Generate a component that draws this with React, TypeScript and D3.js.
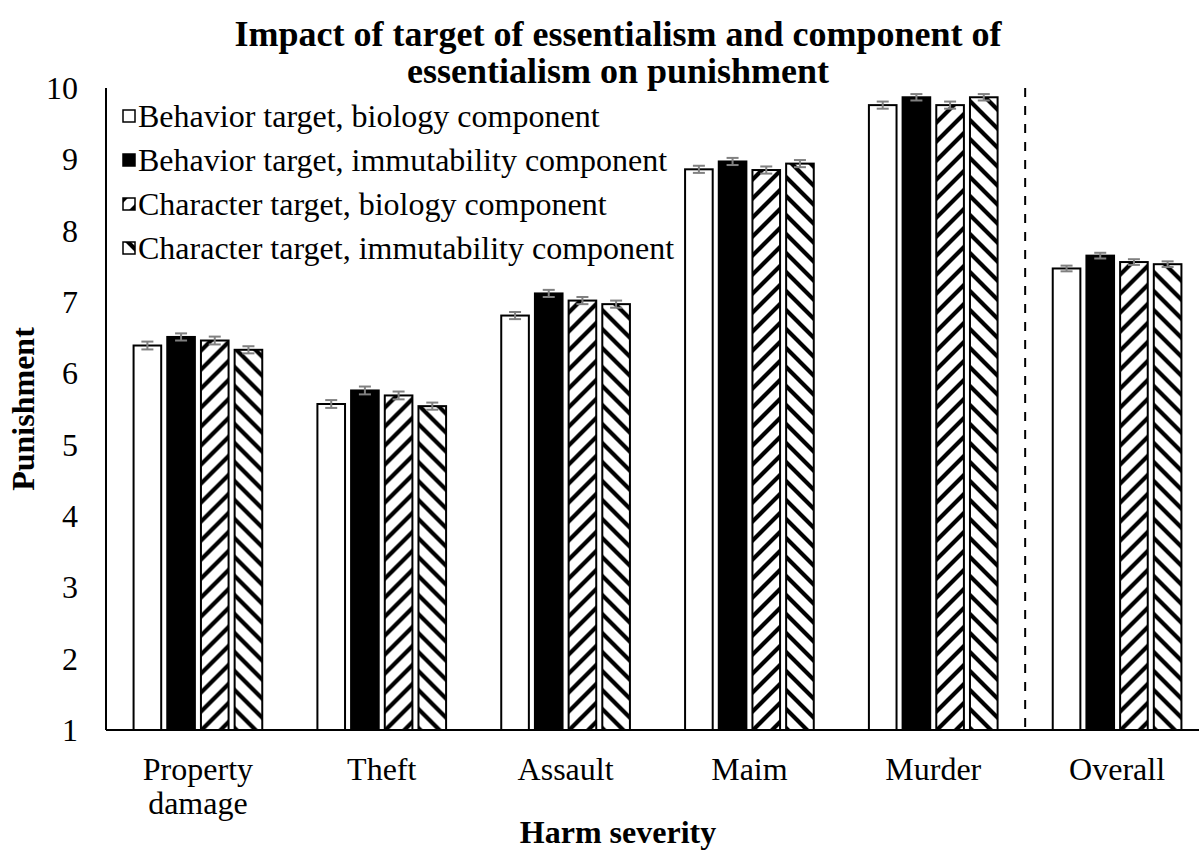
import React from "react";
import * as d3 from "d3";

const categories = ["Property damage", "Theft", "Assault", "Maim", "Murder", "Overall"];
const seriesNames = [
  "Behavior target, biology component",
  "Behavior target, immutability component",
  "Character target, biology component",
  "Character target, immutability component",
];
const behaviorBiology = [6.39, 5.57, 6.81, 8.86, 9.76, 7.47];
const behaviorImmutability = [6.51, 5.76, 7.12, 8.97, 9.87, 7.65];
const characterBiology = [6.46, 5.69, 7.02, 8.85, 9.76, 7.56];
const characterImmutability = [6.33, 5.54, 6.97, 8.94, 9.87, 7.53];
const behaviorBiologyErr = [0.055, 0.055, 0.05, 0.05, 0.05, 0.04];
const behaviorImmutabilityErr = [0.05, 0.055, 0.05, 0.05, 0.045, 0.04];
const characterBiologyErr = [0.055, 0.055, 0.05, 0.05, 0.05, 0.04];
const characterImmutabilityErr = [0.05, 0.05, 0.05, 0.05, 0.045, 0.04];
const yTicks = [1, 2, 3, 4, 5, 6, 7, 8, 9, 10];

const values = [behaviorBiology, behaviorImmutability, characterBiology, characterImmutability];
const errors = [behaviorBiologyErr, behaviorImmutabilityErr, characterBiologyErr, characterImmutabilityErr];
const fills = ["#ffffff", "#000000", "url(#hatchUp)", "url(#hatchDown)"];

const font = "'Liberation Serif', 'Times New Roman', serif";

const App: React.FC = () => {
  const width = 1199;
  const height = 852;
  const left = 106;
  const plotRight = 1209; // plot area runs past the cropped right edge
  const top = 88;
  const bottom = 730;

  const x0 = d3.scaleBand().domain(categories).range([left, plotRight]).paddingInner(0.3).paddingOuter(0.15);
  const x1 = d3
    .scaleBand()
    .domain(seriesNames)
    .range([0, x0.bandwidth()])
    .paddingInner(0.18)
    .paddingOuter(0);
  const y = d3.scaleLinear().domain([1, 10]).range([bottom, top]);

  const gap = x0.step() - x0.bandwidth();
  const dashX = x0("Overall")! - gap / 2;

  const legendRows = [116, 160, 204, 248];

  return (
    <svg width={width} height={height} style={{ position: "absolute", left: 0, top: 0, background: "#fff" }}>
      <defs>
        <pattern id="hatchUp" patternUnits="userSpaceOnUse" width={19} height={19}>
          <rect width={19} height={19} fill="#fff" />
          <path d="M-5,5 L5,-5 M0,19 L19,0 M14,24 L24,14" stroke="#000" strokeWidth={4.2} />
        </pattern>
        <pattern id="hatchDown" patternUnits="userSpaceOnUse" width={19} height={19}>
          <rect width={19} height={19} fill="#fff" />
          <path d="M-5,14 L5,24 M0,0 L19,19 M14,-5 L24,5" stroke="#000" strokeWidth={4.2} />
        </pattern>
      </defs>

      {/* Title */}
      <text x={618} y={46} textAnchor="middle" fontFamily={font} fontWeight="bold" fontSize={36}>
        Impact of target of essentialism and component of
      </text>
      <text x={618} y={83} textAnchor="middle" fontFamily={font} fontWeight="bold" fontSize={36}>
        essentialism on punishment
      </text>

      {/* Bars */}
      {categories.map((c, ci) => (
        <g key={c} transform={`translate(${x0(c)},0)`}>
          {seriesNames.map((s, si) => {
            const v = values[si][ci];
            const e = errors[si][ci];
            const bx = x1(s)!;
            const bw = x1.bandwidth();
            const cx = bx + bw / 2;
            return (
              <g key={s}>
                <rect
                  x={bx}
                  y={y(v)}
                  width={bw}
                  height={y(1) - y(v)}
                  fill={fills[si]}
                  stroke="#000"
                  strokeWidth={2}
                />
                <g stroke="#808080" strokeWidth={2}>
                  <line x1={cx} x2={cx} y1={y(v + e)} y2={y(v - e)} />
                  <line x1={cx - 6} x2={cx + 6} y1={y(v + e)} y2={y(v + e)} />
                  <line x1={cx - 6} x2={cx + 6} y1={y(v - e)} y2={y(v - e)} />
                </g>
              </g>
            );
          })}
        </g>
      ))}

      {/* Axes */}
      <line x1={left} x2={left} y1={top} y2={bottom} stroke="#000" strokeWidth={2} />
      <line x1={left} x2={width} y1={bottom} y2={bottom} stroke="#000" strokeWidth={2} />
      <line x1={dashX} x2={dashX} y1={top} y2={bottom} stroke="#000" strokeWidth={2} strokeDasharray="9,9" />

      {yTicks.map((t) => (
        <text key={t} x={78} y={y(t) + 11} textAnchor="end" fontFamily={font} fontSize={32}>
          {t}
        </text>
      ))}

      {categories.map((c) => {
        const cx = x0(c)! + x0.bandwidth() / 2;
        const parts = c === "Property damage" ? ["Property", "damage"] : [c];
        return (
          <text key={c} textAnchor="middle" fontFamily={font} fontSize={32}>
            {parts.map((p, i) => (
              <tspan key={p} x={cx} y={780 + i * 34}>
                {p}
              </tspan>
            ))}
          </text>
        );
      })}

      <text x={618} y={843} textAnchor="middle" fontFamily={font} fontWeight="bold" fontSize={32}>
        Harm severity
      </text>
      <text
        transform={`translate(34,${(top + bottom) / 2}) rotate(-90)`}
        textAnchor="middle"
        fontFamily={font}
        fontWeight="bold"
        fontSize={32}
      >
        Punishment
      </text>

      {/* Legend */}
      {seriesNames.map((s, i) => (
        <g key={s}>
          <rect x={123} y={legendRows[i] - 6} width={12} height={12} fill={fills[i]} stroke="#000" strokeWidth={1.5} />
          <text x={138} y={legendRows[i] + 11} fontFamily={font} fontSize={32}>
            {s}
          </text>
        </g>
      ))}
    </svg>
  );
};

export default App;
